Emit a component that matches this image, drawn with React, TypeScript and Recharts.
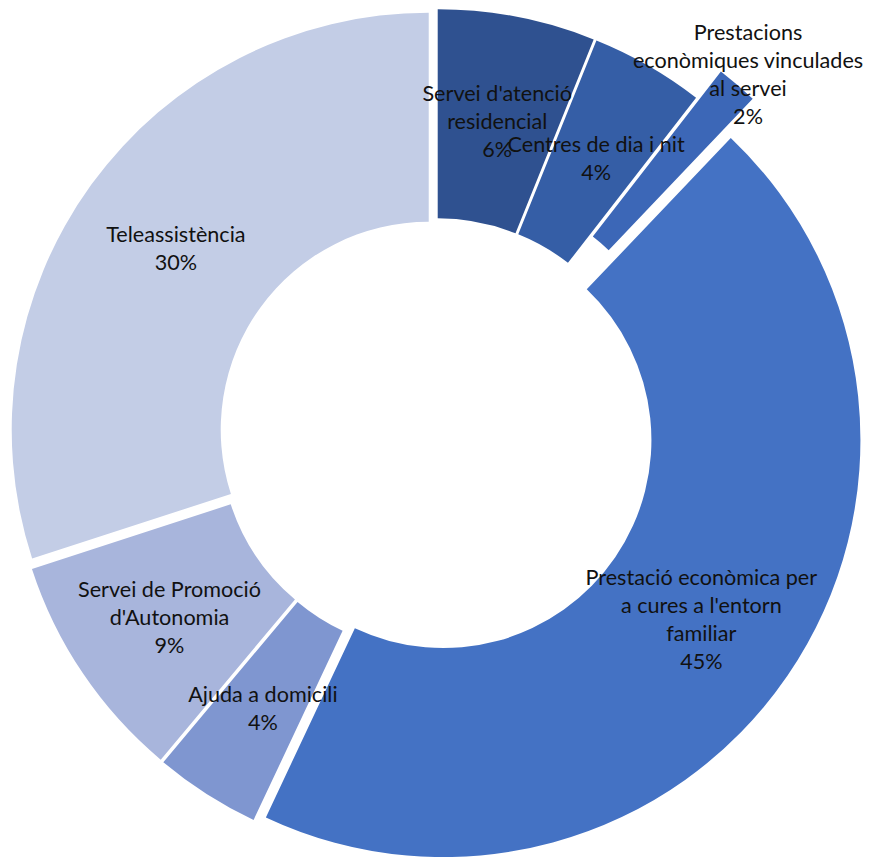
import { PieChart, Pie, Cell } from "recharts";

// categories, clockwise from 12 o'clock
const categories = [
  "Servei d'atenció residencial",
  "Centres de dia i nit",
  "Prestacions econòmiques vinculades al servei",
  "Prestació econòmica per a cures a l'entorn familiar",
  "Ajuda a domicili",
  "Servei de Promoció d'Autonomia",
  "Teleassistència",
];

// share of total (%)
const shares = [6.1, 4.4, 1.6, 44.9, 4.1, 8.9, 30.0];

// label text as broken in the original
const labelLines = [
  ["Servei d'atenció", "residencial"],
  ["Centres de dia i nit"],
  ["Prestacions", "econòmiques vinculades", "al servei"],
  ["Prestació econòmica per", "a cures a l'entorn", "familiar"],
  ["Ajuda a domicili"],
  ["Servei de Promoció", "d'Autonomia"],
  ["Teleassistència"],
];

const colors = ["#2F5190", "#355EA6", "#3C67B7", "#4472C4", "#7F96D0", "#A8B5DC", "#C3CDE6"];

const CX = 436;
const CY = 435;
const OUTER = 417;
const INNER = 208;
const EXPLODE = [9, 9, 45, 9, 9, 9, 9]; // px, slice pulled out from centre
const LABEL_POS = [0.5, 0.5, 1.08, 0.5, 0.5, 0.5, 0.5]; // 0 = inner edge, 1 = outer edge
const LINE_H = 28;

const data = categories.map((name, i) => ({ name, value: shares[i] }));
const total = shares.reduce((a, b) => a + b, 0);

// mid angle of each slice, degrees clockwise from 12 o'clock
const midAngles = shares.map((v, i) => {
  const before = shares.slice(0, i).reduce((a, b) => a + b, 0);
  return ((before + v / 2) / total) * 360;
});

const centerOf = (i: number) => {
  const a = (midAngles[i] * Math.PI) / 180;
  return { x: CX + EXPLODE[i] * Math.sin(a), y: CY - EXPLODE[i] * Math.cos(a) };
};

const renderLabel = (props: any) => {
  const { index, midAngle, percent } = props;
  const c = centerOf(index);
  const rad = INNER + LABEL_POS[index] * (OUTER - INNER);
  const a = (-midAngle * Math.PI) / 180;
  const x = c.x + rad * Math.cos(a);
  const y = c.y + rad * Math.sin(a) + 2;
  const lines = [...labelLines[index], `${Math.round(percent * 100)}%`];
  const y0 = y - ((lines.length - 1) * LINE_H) / 2;
  return (
    <text
      key={`lbl-${index}`}
      x={x}
      y={y0}
      textAnchor="middle"
      dominantBaseline="central"
      fontFamily="Lato, 'Open Sans', sans-serif"
      fontSize={21.6}
      fill="#111"
    >
      {lines.map((l, k) => (
        <tspan key={k} x={x} y={y0 + k * LINE_H}>
          {l}
        </tspan>
      ))}
    </text>
  );
};

export default function App() {
  return (
    <div style={{ position: "absolute", left: 0, top: 0, width: 872, height: 857, background: "#fff" }}>
      <PieChart width={872} height={857} margin={{ top: 0, right: 0, bottom: 0, left: 0 }}>
        {categories.map((_, i) => {
          const c = centerOf(i);
          return (
            <Pie
              key={`slice-${i}`}
              data={data}
              dataKey="value"
              nameKey="name"
              cx={c.x}
              cy={c.y}
              innerRadius={INNER}
              outerRadius={OUTER}
              startAngle={90}
              endAngle={-270}
              stroke="none"
              isAnimationActive={false}
              labelLine={false}
            >
              {data.map((_, j) => (
                <Cell key={j} fill={j === i ? colors[j] : "none"} />
              ))}
            </Pie>
          );
        })}
        <Pie
          data={data}
          dataKey="value"
          nameKey="name"
          cx={CX}
          cy={CY}
          innerRadius={INNER}
          outerRadius={OUTER}
          startAngle={90}
          endAngle={-270}
          stroke="none"
          isAnimationActive={false}
          labelLine={false}
          label={renderLabel}
        >
          {data.map((_, j) => (
            <Cell key={j} fill="none" />
          ))}
        </Pie>
      </PieChart>
    </div>
  );
}
